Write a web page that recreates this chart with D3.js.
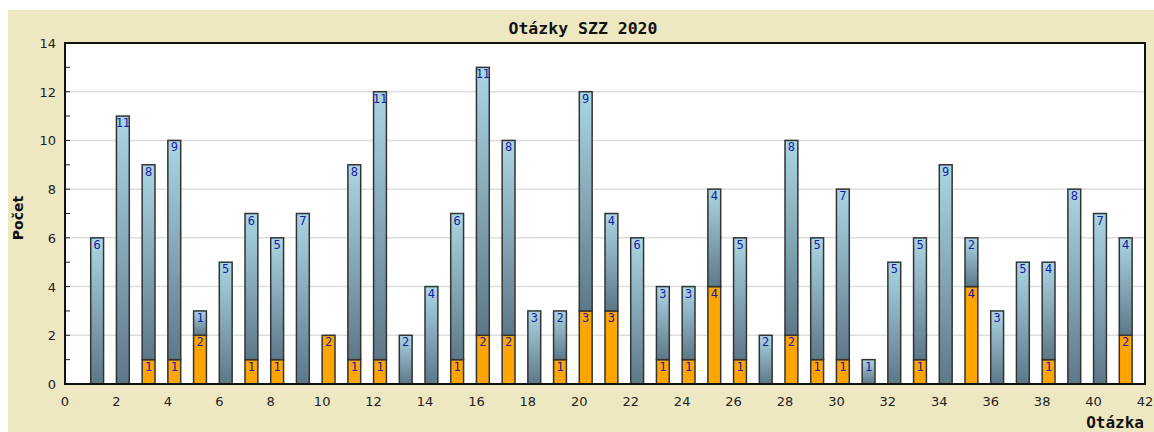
<!DOCTYPE html>
<html lang="cs">
<head>
<meta charset="UTF-8">
<title>Otázky SZZ 2020</title>
<script src="https://d3js.org/d3.v7.min.js"></script>
<style>
  body { margin: 0; background: white; }
</style>
</head>
<body>
<svg id="chart" width="1154" height="432" font-family="DejaVu Sans, Verdana, sans-serif"></svg>
<script>
// question numbers 1..41
var questions = d3.range(1, 42);
// lower (orange) part of each bar
var orangeVals = [0,0,1,1,2,0,1,1,0,2, 1,1,0,0,1,2,2,0,1,3, 3,0,1,1,4,1,0,2,1,1, 0,0,1,0,4,0,0,1,0,0, 2];
// upper (blue) part of each bar
var blueVals = [6,11,8,9,1,5,6,5,7,0, 8,11,2,4,6,11,8,3,2,9, 4,6,3,3,4,5,2,8,5,7, 1,5,5,9,2,3,5,4,8,7, 4];
var yTicks = [0,2,4,6,8,10,12,14];
var xTicks = d3.range(0, 43, 2);

var svg = d3.select("#chart");
var plot = {left: 65, top: 43, right: 1145, bottom: 384};

// beige panel
svg.append("rect").attr("x", 8).attr("y", 10).attr("width", 1146).attr("height", 422)
  .attr("fill", "#eee8c2");

// plot background
svg.append("rect").attr("x", plot.left).attr("y", plot.top)
  .attr("width", plot.right - plot.left).attr("height", plot.bottom - plot.top)
  .attr("fill", "white");

var x = d3.scaleLinear().domain([0, 42]).range([plot.left, plot.right]);
var y = d3.scaleLinear().domain([0, 14]).range([plot.bottom, plot.top]);

// gradient for blue segments
var grad = svg.append("defs").append("linearGradient")
  .attr("id", "blueGrad").attr("x1", 0).attr("y1", 0).attr("x2", 0).attr("y2", 1);
grad.append("stop").attr("offset", "0%").attr("stop-color", "#abd6e3");
grad.append("stop").attr("offset", "100%").attr("stop-color", "#5d7888");

// grid lines
svg.append("g").selectAll("line")
  .data(yTicks.filter(function(d) { return d > 0 && d < 14; }))
  .enter().append("line")
  .attr("x1", plot.left).attr("x2", plot.right)
  .attr("y1", function(d) { return y(d); }).attr("y2", function(d) { return y(d); })
  .attr("stroke", "#dddddd").attr("stroke-width", 1.5);

// y axis ticks (inward), major and minor
svg.append("g").selectAll("line")
  .data(d3.range(1, 14))
  .enter().append("line")
  .attr("x1", plot.left).attr("x2", plot.left + 5)
  .attr("y1", function(d) { return y(d); }).attr("y2", function(d) { return y(d); })
  .attr("stroke", "#222").attr("stroke-width", 1);

// y tick labels
svg.append("g").selectAll("text")
  .data(yTicks)
  .enter().append("text")
  .attr("x", plot.left - 9).attr("y", function(d) { return y(d) + 5; })
  .attr("text-anchor", "end").attr("font-size", 13).attr("fill", "#222")
  .text(function(d) { return d; });

// x tick labels
svg.append("g").selectAll("text")
  .data(xTicks)
  .enter().append("text")
  .attr("x", function(d) { return x(d); }).attr("y", plot.bottom + 22)
  .attr("text-anchor", "middle").attr("font-size", 13).attr("fill", "#222")
  .text(function(d) { return d; });

var barW = x(0.5) - x(0);

// orange segments
var bars = svg.append("g");
bars.selectAll("rect.orange")
  .data(questions.filter(function(q) { return orangeVals[q - 1] > 0; }))
  .enter().append("rect")
  .attr("class", "orange")
  .attr("x", function(q) { return x(q); })
  .attr("y", function(q) { return y(orangeVals[q - 1]); })
  .attr("width", barW)
  .attr("height", function(q) { return y(0) - y(orangeVals[q - 1]); })
  .attr("fill", "#ffa500").attr("stroke", "#333").attr("stroke-width", 1.5);

// blue segments
bars.selectAll("rect.blue")
  .data(questions.filter(function(q) { return blueVals[q - 1] > 0; }))
  .enter().append("rect")
  .attr("class", "blue")
  .attr("x", function(q) { return x(q); })
  .attr("y", function(q) { return y(orangeVals[q - 1] + blueVals[q - 1]); })
  .attr("width", barW)
  .attr("height", function(q) { return y(orangeVals[q - 1]) - y(orangeVals[q - 1] + blueVals[q - 1]); })
  .attr("fill", "url(#blueGrad)").attr("stroke", "#333").attr("stroke-width", 1.5);

// value labels
var labels = svg.append("g").attr("font-family", "DejaVu Sans Mono, monospace")
  .attr("font-size", 12).attr("fill", "#1a1aa8").attr("text-anchor", "middle");
labels.selectAll("text.ol")
  .data(questions.filter(function(q) { return orangeVals[q - 1] > 0; }))
  .enter().append("text")
  .attr("x", function(q) { return x(q + 0.25); })
  .attr("y", function(q) { return y(orangeVals[q - 1]) + 11; })
  .text(function(q) { return orangeVals[q - 1]; });
labels.selectAll("text.bl")
  .data(questions.filter(function(q) { return blueVals[q - 1] > 0; }))
  .enter().append("text")
  .attr("x", function(q) { return x(q + 0.25); })
  .attr("y", function(q) { return y(orangeVals[q - 1] + blueVals[q - 1]) + 11; })
  .text(function(q) { return blueVals[q - 1]; });

// plot frame
svg.append("rect").attr("x", plot.left).attr("y", plot.top)
  .attr("width", plot.right - plot.left).attr("height", plot.bottom - plot.top)
  .attr("fill", "none").attr("stroke", "#111").attr("stroke-width", 2);

// title and axis labels
svg.append("text").attr("x", 583).attr("y", 34)
  .attr("text-anchor", "middle").attr("font-family", "DejaVu Sans Mono, monospace")
  .attr("font-weight", "bold").attr("font-size", 16.5).attr("fill", "#111")
  .text("Otázky SZZ 2020");

svg.append("text")
  .attr("transform", "translate(23,218) rotate(-90)")
  .attr("text-anchor", "middle").attr("font-weight", "bold").attr("font-size", 14).attr("fill", "#111")
  .text("Počet");

svg.append("text").attr("x", 1144).attr("y", 428)
  .attr("text-anchor", "end").attr("font-family", "DejaVu Sans Mono, monospace")
  .attr("font-weight", "bold").attr("font-size", 16).attr("fill", "#111")
  .text("Otázka");
</script>
</body>
</html>
